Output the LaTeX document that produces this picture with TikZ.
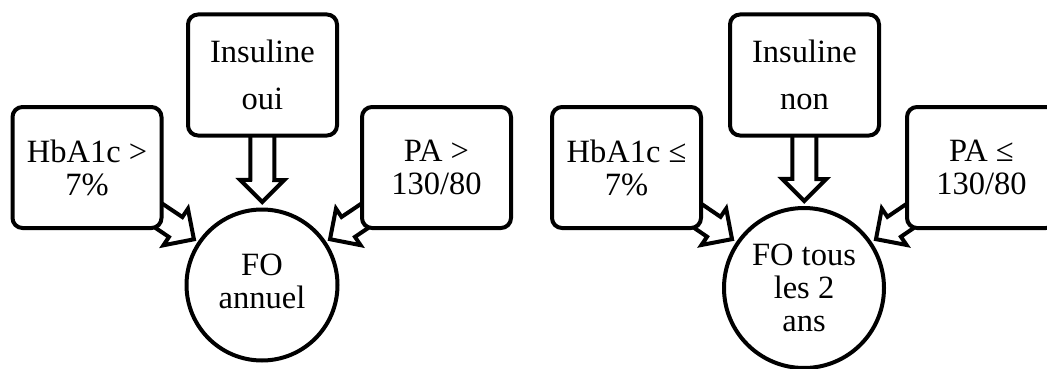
\documentclass[tikz,border=0pt]{standalone}
\usepackage{fontspec}
\setmainfont{Liberation Serif}
\usetikzlibrary{calc,backgrounds}
\tikzset{
  txt/.style={align=center, font=\fontsize{32.5}{33}\selectfont},
  box/.style={txt, draw, line width=4pt, rounded corners=10pt, fill=white,
    minimum width=149pt, minimum height=121pt, inner sep=0pt},
  circ/.style={txt, draw, circle, line width=4pt, fill=white, inner sep=0pt},
  barr/.style={draw, line width=4pt, fill=white, line join=miter},
}
\newcommand{\blockarr}[3]{% #1 from node, #2 to node, #3 tip distance from #2 centre
  \coordinate (T) at ($(#2.center)!#3!(#1.center)$);
  \coordinate (B) at ($(T)!22pt!(#1.center)$);
  \draw[barr] ($(#1.center)!12pt!90:(T)$) -- ($(B)!12pt!90:(T)$)
    -- ($(B)!22pt!90:(T)$) -- (T) -- ($(B)!22pt!-90:(T)$)
    -- ($(B)!12pt!-90:(T)$) -- ($(#1.center)!12pt!-90:(T)$) -- cycle;
}
\begin{document}
\begin{tikzpicture}[x=1pt,y=-1pt]
\useasboundingbox (0,0) rectangle (1047,369);
% left panel
\node[box] (lhb) at (87,167.5) {HbA1c >\\7\%};
\node[box] (lins) at (262.5,75) {Insuline\\[14pt]oui};
\node[box] (lpa) at (436.5,167.5) {PA >\\130/80};
\node[circ, minimum size=151pt] (lfo) at (262,285) {\raisebox{-5pt}{\begin{tabular}{@{}c@{}}FO\\annuel\end{tabular}}};
% right panel
\node[box] (rhb) at (626.5,167.5) {HbA1c ≤\\7\%};
\node[box] (rins) at (804.5,75) {Insuline\\[14pt]non};
\node[box] (rpa) at (981.5,167.5) {PA ≤\\130/80};
\node[circ, minimum size=160pt] (rfo) at (804,288) {FO tous\\les 2\\ans};
\begin{scope}[on background layer]
  \blockarr{lhb}{lfo}{82pt}
  \blockarr{lins}{lfo}{83pt}
  \blockarr{lpa}{lfo}{82pt}
  \blockarr{rhb}{rfo}{87pt}
  \blockarr{rins}{rfo}{87pt}
  \blockarr{rpa}{rfo}{87pt}
\end{scope}
\end{tikzpicture}
\end{document}
